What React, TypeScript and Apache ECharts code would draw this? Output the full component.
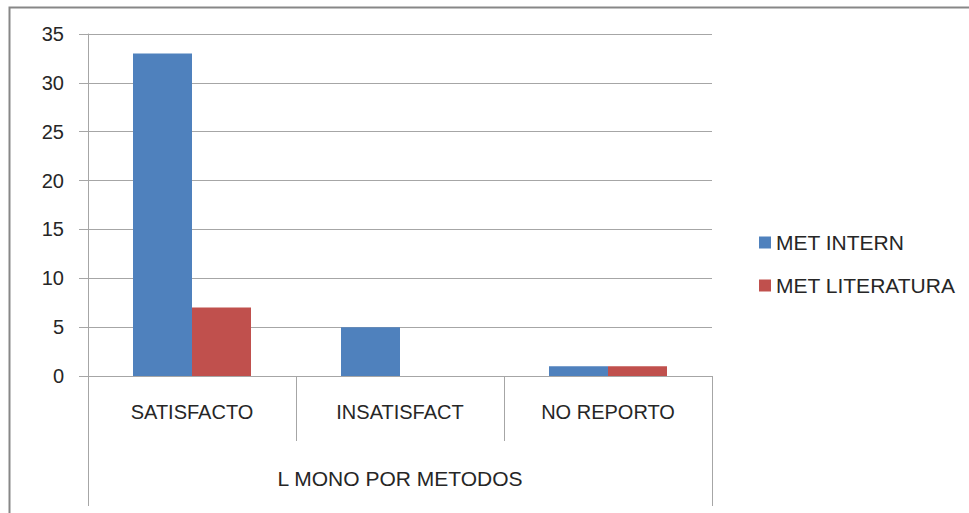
import React, { useEffect, useRef } from "react";
import * as echarts from "echarts";

const categories = ["SATISFACTO", "INSATISFACT", "NO REPORTO"];
const groupLabel = ["L MONO POR METODOS"];
const metIntern = [33, 5, 1];
const metLiteratura = [7, 0, 1];
const seriesNames = ["MET INTERN", "MET LITERATURA"];

const FONT = "Liberation Sans";
const TEXT = "#262626";
const GRID = "#a6a6a6";

export default function App() {
  const ref = useRef<HTMLDivElement>(null);
  useEffect(() => {
    if (!ref.current) return;
    const chart = echarts.init(ref.current, undefined, { renderer: "svg" });
    chart.setOption({
      animation: false,
      backgroundColor: "#ffffff",
      textStyle: { fontFamily: FONT },
      graphic: [
        {
          type: "rect",
          shape: { x: 9.5, y: 7.5, width: 1000, height: 600 },
          style: { fill: "none", stroke: "#878787", lineWidth: 2 },
          silent: true,
        },
      ],
      legend: {
        orient: "vertical",
        left: 754,
        top: 227,
        itemWidth: 12,
        itemHeight: 12,
        itemGap: 22,
        icon: "rect",
        textStyle: { fontFamily: FONT, fontSize: 21, color: TEXT },
        data: seriesNames,
      },
      grid: { left: 88, right: 257, top: 34, bottom: 137, containLabel: false },
      xAxis: [
        {
          type: "category",
          data: categories,
          position: "bottom",
          axisLine: { show: true, lineStyle: { color: GRID } },
          axisTick: { show: true, alignWithLabel: false, length: 65, lineStyle: { color: GRID } },
          axisLabel: { margin: 26, fontSize: 20, color: TEXT, fontFamily: FONT },
          splitLine: { show: false },
        },
        {
          type: "category",
          data: groupLabel,
          position: "bottom",
          axisLine: { show: false },
          axisTick: { show: true, alignWithLabel: false, length: 130, lineStyle: { color: GRID } },
          axisLabel: { margin: 92, fontSize: 21, color: TEXT, fontFamily: FONT },
          splitLine: { show: false },
        },
      ],
      yAxis: {
        type: "value",
        min: 0,
        max: 35,
        interval: 5,
        axisLine: { show: true, lineStyle: { color: GRID } },
        axisTick: { show: true, length: 9, lineStyle: { color: GRID } },
        axisLabel: { margin: 24, fontSize: 20, color: TEXT, fontFamily: FONT },
        splitLine: { show: true, lineStyle: { color: GRID } },
      },
      series: [
        {
          name: seriesNames[0],
          type: "bar",
          data: metIntern,
          barWidth: 59,
          barGap: "0%",
          itemStyle: { color: "#4f81bd" },
        },
        {
          name: seriesNames[1],
          type: "bar",
          data: metLiteratura,
          barWidth: 59,
          barGap: "0%",
          itemStyle: { color: "#c0504d" },
        },
      ],
    });
    return () => chart.dispose();
  }, []);
  return (
    <div
      ref={ref}
      style={{ position: "fixed", left: 0, top: 0, width: 969, height: 513 }}
    />
  );
}
